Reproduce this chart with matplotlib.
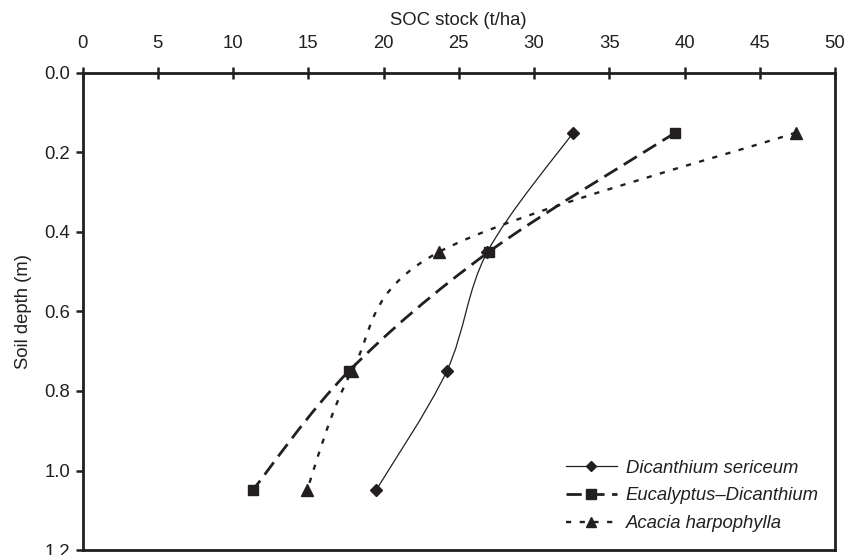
import matplotlib
matplotlib.use('Agg')
import matplotlib.pyplot as plt
from matplotlib.path import Path
from matplotlib.patches import PathPatch
from matplotlib.lines import Line2D
import numpy as np

plt.rcParams['font.family'] = ['Liberation Sans', 'DejaVu Sans']

depth = [0.15, 0.45, 0.75, 1.05]
dicanthium = [32.6, 26.9, 24.2, 19.5]
eucalyptus = [39.4, 27.0, 17.7, 11.3]
acacia = [47.4, 23.7, 17.9, 14.9]
names = ['Dicanthium sericeum', 'Eucalyptus\u2013Dicanthium', 'Acacia harpophylla']

x_ticks = list(range(0, 51, 5))
y_ticks = [0.0, 0.2, 0.4, 0.6, 0.8, 1.0, 1.2]

ink = '#231f20'
fs = 13.3


def smooth_path(xs, ys):
  # excel style smoothed line: bezier segments through the points
  p = np.column_stack([xs, ys]).astype(float)
  n = len(p)
  verts = [p[0]]
  codes = [Path.MOVETO]
  for i in range(n - 1):
    p0 = p[i - 1] if i > 0 else p[i]
    p3 = p[i + 2] if i + 2 < n else p[i + 1]
    c1 = p[i] + (p[i + 1] - p0) / 6.0
    c2 = p[i + 1] - (p3 - p[i]) / 6.0
    verts += [c1, c2, p[i + 1]]
    codes += [Path.CURVE4] * 3
  return Path(verts, codes)


styles = [
  dict(lw=0.9, ls='-', marker='D', ms=6.0),
  dict(lw=2.0, ls=(0, (5.5, 2.7)), marker='s', ms=7.5),
  dict(lw=1.7, ls=(0, (2.2, 3.6)), marker='^', ms=8.5),
]

fig = plt.figure(figsize=(8.48, 5.55), dpi=100)
ax = fig.add_axes([0.0973, 0.009, 0.8874, 0.8595])

handles = []
for vals, st, name in zip([dicanthium, eucalyptus, acacia], styles, names):
  patch = PathPatch(smooth_path(vals, depth), fill=False, edgecolor=ink,
                    lw=st['lw'], linestyle=st['ls'], capstyle='butt', zorder=2)
  ax.add_patch(patch)
  ax.plot(vals, depth, ls='none', marker=st['marker'], ms=st['ms'],
          color=ink, mec=ink, zorder=3)
  handles.append(Line2D([], [], color=ink, lw=st['lw'], ls=st['ls'],
                        marker=st['marker'], ms=st['ms'] * 0.9, label=name))

ax.set_xlim(0, 50)
ax.set_ylim(1.2, 0.0)
ax.set_xticks(x_ticks)
ax.set_yticks(y_ticks)
ax.set_yticklabels(['%.1f' % v for v in y_ticks])
ax.xaxis.tick_top()
ax.xaxis.set_label_position('top')
ax.set_xlabel('SOC stock (t/ha)', fontsize=fs, color=ink, labelpad=7)
ax.set_ylabel('Soil depth (m)', fontsize=fs, color=ink, labelpad=9)
ax.tick_params(axis='x', direction='inout', length=8, width=1.8, colors=ink,
               labelsize=fs, pad=11)
ax.tick_params(axis='y', direction='out', length=5, width=1.8, colors=ink,
               labelsize=fs, pad=4)
for s in ax.spines.values():
  s.set_linewidth(2.0)
  s.set_color(ink)

leg = ax.legend(handles=handles, loc='upper left', bbox_to_anchor=(0.62, 0.224),
                frameon=False, fontsize=fs, handlelength=2.76, labelspacing=0.58,
                handletextpad=0.49, numpoints=1)
for t in leg.get_texts():
  t.set_fontstyle('italic')
  t.set_color(ink)

fig.savefig('out.png', dpi=100)
